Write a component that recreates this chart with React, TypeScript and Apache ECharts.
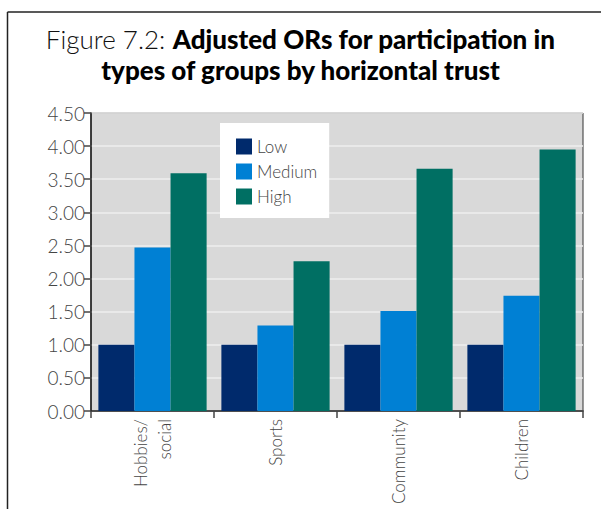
import React, { useEffect, useRef } from "react";
import * as echarts from "echarts";

const categories = ["Hobbies/\nsocial", "Sports", "Community", "Children"];
const lowValues = [1.0, 1.0, 1.0, 1.0];
const mediumValues = [2.47, 1.29, 1.51, 1.74];
const highValues = [3.59, 2.26, 3.66, 3.95];
const seriesNames = ["Low", "Medium", "High"];
const seriesColors = ["#002a6c", "#0080d4", "#006f63"];

const FONT = "Lato, 'Open Sans', sans-serif";

export default function App() {
  const ref = useRef<HTMLDivElement>(null);
  useEffect(() => {
    if (!ref.current) return;
    const chart = echarts.init(ref.current, undefined, { renderer: "svg" });
    const data = [lowValues, mediumValues, highValues];
    chart.setOption({
      animation: false,
      textStyle: { fontFamily: FONT },
      title: {
        text: "{l|Figure 7.2: }{b|Adjusted ORs for participation in}\n{b|types of groups by horizontal trust}",
        left: "center",
        top: 18,
        textStyle: {
          rich: {
            l: { fontFamily: FONT, fontWeight: 300, fontSize: 26, color: "#111", lineHeight: 31 },
            b: { fontFamily: FONT, fontWeight: 900, fontSize: 26, color: "#000", lineHeight: 31 },
          },
        },
      },
      legend: {
        orient: "vertical",
        left: 220,
        top: 123,
        backgroundColor: "#ffffff",
        padding: [15, 12, 13, 16],
        itemGap: 8,
        itemWidth: 16,
        itemHeight: 16,
        icon: "rect",
        data: seriesNames,
        textStyle: { fontFamily: FONT, fontWeight: 300, fontSize: 17, color: "#444" },
      },
      grid: {
        left: 91,
        right: 18,
        top: 113,
        bottom: 98,
        show: true,
        backgroundColor: "#d9d9d9",
        borderColor: "#333",
        borderWidth: 1,
      },
      xAxis: {
        type: "category",
        data: categories,
        axisLine: { lineStyle: { color: "#222", width: 1.5 } },
        axisTick: { show: true, length: 7, lineStyle: { color: "#444", width: 1.5 } },
        axisLabel: {
          rotate: 90,
          fontFamily: FONT,
          fontWeight: 300,
          fontSize: 17,
          color: "#444",
          margin: 8,
          lineHeight: 24,
        },
      },
      yAxis: {
        type: "value",
        min: 0,
        max: 4.5,
        interval: 0.5,
        axisLine: { show: true, lineStyle: { color: "#222", width: 1.5 } },
        axisTick: { show: true, length: 7, lineStyle: { color: "#444", width: 1.5 } },
        splitLine: { show: true, lineStyle: { color: "#eeeeee", width: 1.5 } },
        axisLabel: {
          formatter: (v: number) => v.toFixed(2),
          fontFamily: FONT,
          fontWeight: 300,
          fontSize: 19,
          color: "#444",
          margin: 6,
        },
      },
      series: seriesNames.map((name, i) => ({
        name,
        type: "bar",
        data: data[i],
        barGap: "0%",
        barCategoryGap: "12%",
        itemStyle: { color: seriesColors[i] },
      })),
      graphic: [
        { type: "line", shape: { x1: 7.5, y1: 12, x2: 601, y2: 12 }, style: { stroke: "#222", lineWidth: 1.5 } },
        { type: "line", shape: { x1: 7.5, y1: 12, x2: 7.5, y2: 509 }, style: { stroke: "#222", lineWidth: 1.5 } },
      ],
    });
    return () => chart.dispose();
  }, []);
  return <div ref={ref} style={{ width: 601, height: 509, position: "absolute", left: 0, top: 0 }} />;
}
